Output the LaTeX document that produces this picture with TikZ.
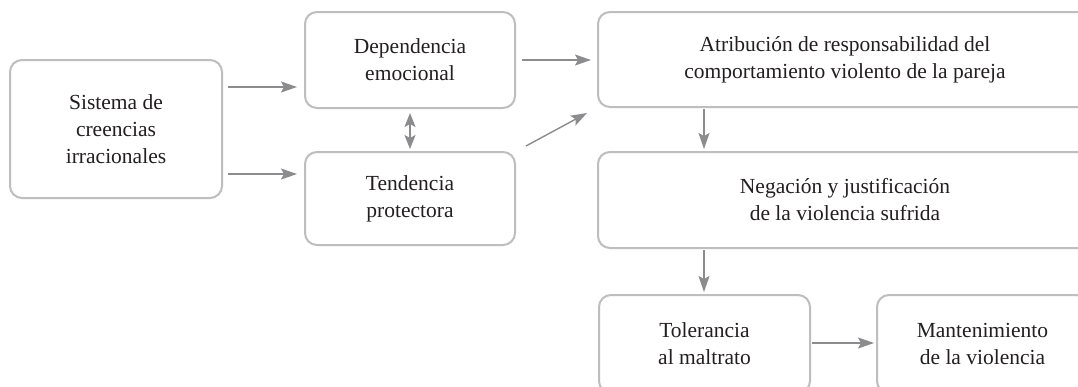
\documentclass[tikz,border=0pt]{standalone}
\usepackage{fontspec}
\setmainfont{Liberation Serif}
\usetikzlibrary{arrows.meta}
\definecolor{boxgray}{HTML}{BEBEBE}
\definecolor{arrgray}{HTML}{8C8C8E}
\definecolor{txt}{HTML}{231F20}
\tikzset{
  box/.style={draw=boxgray, line width=2pt, rounded corners=12pt, fill=white,
    align=center, text=txt, font=\fontsize{21.5}{27}\selectfont, inner sep=0pt},
  arr/.style={draw=arrgray, line width=1.4pt, -{Stealth[length=16pt,width=11pt,inset=3pt]}},
  darr/.style={draw=arrgray, line width=1.4pt, {Stealth[length=14pt,width=11pt,inset=3pt]}-{Stealth[length=14pt,width=11pt,inset=3pt]}}
}
\begin{document}
\begin{tikzpicture}[x=1pt,y=-1pt]
\useasboundingbox (0,0) rectangle (1078,386);
\clip (0,0) rectangle (1078,386);
\fill[white] (0,0) rectangle (1078,386);
\node[box, minimum width=212pt, minimum height=138pt] (A) at (116,129) {Sistema de\\creencias\\irracionales};
\node[box, minimum width=210pt, minimum height=96pt] (B) at (410,60) {Dependencia\\emocional};
\node[box, minimum width=210pt, minimum height=93pt] (C) at (410,198.5) {Tendencia\\protectora};
\node[box, minimum width=494pt, minimum height=95pt] (D) at (845,59.5) {Atribución de responsabilidad del\\comportamiento violento de la pareja};
\node[box, minimum width=494pt, minimum height=96pt] (E) at (845,200) {Negación y justificación\\de la violencia sufrida};
\node[box, minimum width=211pt, minimum height=98pt] (F) at (704.5,344) {Tolerancia\\al maltrato};
\node[box, minimum width=211pt, minimum height=98pt] (G) at (982.5,344) {Mantenimiento\\de la violencia};
\draw[arr] ([shift={(5,-42)}]A.east) -- ([shift={(-7,27)}]B.west);
\draw[arr] ([shift={(5,45)}]A.east) -- ([shift={(-7,-24.5)}]C.west);
\draw[darr] ([shift={(0,4)}]B.south) -- ([shift={(0,-2)}]C.north);
\draw[arr] ([shift={(6,0)}]B.east) -- ([shift={(-6,0.5)}]D.west);
\draw[arr] ([shift={(10,-52.5)}]C.east) -- ([shift={(-10,53.5)}]D.west);
\draw[arr] ([shift={(-141,1)}]D.south) -- ([shift={(-141,-2)}]E.north);
\draw[arr] ([shift={(-141,1)}]E.south) -- ([shift={(-0.5,-2)}]F.north);
\draw[arr] ([shift={(1,-1)}]F.east) -- ([shift={(-2,-1)}]G.west);
\end{tikzpicture}
\end{document}
